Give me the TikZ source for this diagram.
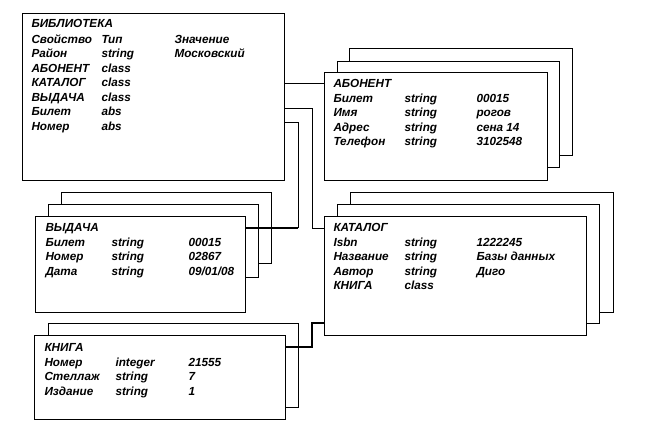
\documentclass[tikz,border=0pt]{standalone}
\usepackage{fontspec}
\setmainfont{Liberation Sans}

\tikzset{every picture/.style={line width=0.75pt}}
\tikzset{
  card/.style 2 args={draw, fill=white, inner sep=0pt, anchor=north west,
    minimum width=#1*0.75pt, minimum height=#2*0.75pt},
  cell/.style={anchor=west, inner sep=0.75pt, text height=1.6ex, text depth=0.4ex,
    font=\fontsize{8.8}{10}\selectfont\bfseries\itshape},
  thicklink/.style={line width=1.6pt}
}

\begin{document}
\begin{tikzpicture}[x=0.75pt,y=0.75pt,yscale=-1,xscale=1]
\useasboundingbox (0,0) rectangle (661,430);

%Shape: library card
\node[card={262}{167}] (bib) at (22,13) {};

%Shape: subscriber cards (two behind, one in front)
\node[card={223}{107}] (abonC) at (349,48) {};
\node[card={222}{106}] (abonB) at (337,61) {};
\node[card={223}{108}] (abon) at (324,72) {};

%Shape: loan cards
\node[card={210}{71}] (vydC) at (61,192) {};
\node[card={210}{73}] (vydB) at (48,204) {};
\node[card={210}{96}] (vyd) at (35,216) {};

%Shape: catalogue cards
\node[card={263}{120}] (katC) at (350,192) {};
\node[card={262}{119}] (katB) at (337,204) {};
\node[card={262}{119}] (kat) at (324,216) {};

%Shape: book cards
\node[card={250}{84}] (knB) at (48,323) {};
\node[card={251}{84}] (kn) at (34,335) {};

% Text Node: library
\node[cell] (bibT) at (30,23) {БИБЛИОТЕКА};
\foreach \a/\b/\c [count=\i] in {Свойство/Тип/Значение, Район/string/Московский,
    АБОНЕНТ/class/, КАТАЛОГ/class/, ВЫДАЧА/class/, Билет/abs/, Номер/abs/} {
  \node[cell] (bib-\i-1) at (30,24.5+14.5*\i) {\a};
  \node[cell] (bib-\i-2) at (100,24.5+14.5*\i) {\b};
  \node[cell] (bib-\i-3) at (173,24.5+14.5*\i) {\c};
}

% Text Node: subscriber
\node[cell] (abonT) at (332,83) {АБОНЕНТ};
\foreach \a/\b/\c [count=\i] in {Билет/string/00015, Имя/string/рогов,
    Адрес/string/сена 14, Телефон/string/3102548} {
  \node[cell] (abon-\i-1) at (332,83.5+14.5*\i) {\a};
  \node[cell] (abon-\i-2) at (403,83.5+14.5*\i) {\b};
  \node[cell] (abon-\i-3) at (475,83.5+14.5*\i) {\c};
}

% Text Node: loan
\node[cell] (vydT) at (44,227) {ВЫДАЧА};
\foreach \a/\b/\c [count=\i] in {Билет/string/00015, Номер/string/02867,
    Дата/string/{09/01/08}} {
  \node[cell] (vyd-\i-1) at (44,227.5+14.5*\i) {\a};
  \node[cell] (vyd-\i-2) at (110,227.5+14.5*\i) {\b};
  \node[cell] (vyd-\i-3) at (187,227.5+14.5*\i) {\c};
}

% Text Node: catalogue
\node[cell] (katT) at (332,227) {КАТАЛОГ};
\foreach \a/\b/\c [count=\i] in {Isbn/string/1222245, Название/string/Базы данных,
    Автор/string/Диго, КНИГА/class/} {
  \node[cell] (kat-\i-1) at (332,227.5+14.5*\i) {\a};
  \node[cell] (kat-\i-2) at (403,227.5+14.5*\i) {\b};
  \node[cell] (kat-\i-3) at (475,227.5+14.5*\i) {\c};
}

% Text Node: book
\node[cell] (knT) at (43,347) {КНИГА};
\foreach \a/\b/\c [count=\i] in {Номер/integer/21555, Стеллаж/string/7,
    Издание/string/1} {
  \node[cell] (kn-\i-1) at (43,347.5+14.5*\i) {\a};
  \node[cell] (kn-\i-2) at (114,347.5+14.5*\i) {\b};
  \node[cell] (kn-\i-3) at (187,347.5+14.5*\i) {\c};
}

%Links
\coordinate (bibK) at (284,108);
\coordinate (bibV) at (284,122);
\coordinate (katBend) at (312,228);
\coordinate (vydBend) at (298,228);
\coordinate (knBend) at (312,323);

\draw (bib.east |- abonT.west) -- (abon.west |- abonT.west);
\draw (bibK) -| (katBend) -- (kat.west |- katBend);
\draw (bibV) -| (vydBend);
\draw[thicklink] (vydBend) -- (vyd.east |- vydBend);
\draw[thicklink] (kn.east |- knT.west) -| (knBend) -- (kat.west |- knBend);

\end{tikzpicture}
\end{document}
